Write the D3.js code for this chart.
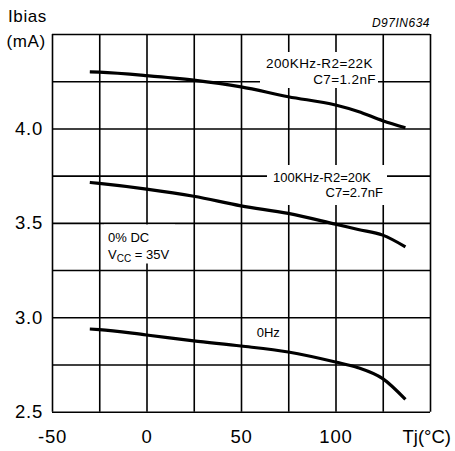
<!DOCTYPE html>
<html>
<head>
<meta charset="utf-8">
<script src="https://cdn.jsdelivr.net/npm/d3@7"></script>
<style>
  body { margin: 0; background: #fff; }
  text { font-family: "Liberation Sans", Arial, sans-serif; fill: #000; }
</style>
</head>
<body>
<div id="chart"></div>
<script>
// Data (Ibias in mA vs junction temperature)
var temps = [-30, -25, 0, 25, 50, 75, 100, 112, 125, 137];
var bias200k = [4.30, 4.298, 4.28, 4.256, 4.22, 4.168, 4.124, 4.09, 4.041, 4.004];
var bias100k = [3.714, 3.709, 3.679, 3.641, 3.59, 3.55, 3.493, 3.465, 3.435, 3.373];
var bias0 = [2.938, 2.935, 2.906, 2.875, 2.848, 2.816, 2.763, 2.733, 2.675, 2.565];

var xGrid = [-50, -25, 0, 25, 50, 75, 100, 125, 150];
var yGrid = [2.5, 2.75, 3.0, 3.25, 3.5, 3.75, 4.0, 4.25, 4.5];
var xLabels = {"-50": "-50", "0": "0", "50": "50", "100": "100", "150": "Tj(°C)"};
var yLabels = {"2.5": "2.5", "3": "3.0", "3.5": "3.5", "4": "4.0"};

var svgWidth = 455;
var svgHeight = 451;
var margin = { top: 34, right: 25, bottom: 39.3, left: 52 };
var width = svgWidth - margin.left - margin.right;
var height = svgHeight - margin.top - margin.bottom;

var svg = d3.select("#chart")
    .append("svg")
    .attr("width", svgWidth)
    .attr("height", svgHeight);

var chartGroup = svg.append("g")
    .attr("transform", `translate(${margin.left}, ${margin.top})`);

var x = d3.scaleLinear().domain([-50, 150]).range([0, width]);
var y = d3.scaleLinear().domain([2.5, 4.5]).range([height, 0]);

// grid + tick labels through the axes
var xAxis = chartGroup.append("g")
    .attr("transform", `translate(0, ${height})`)
    .call(d3.axisBottom(x)
        .tickValues(xGrid)
        .tickSize(-height)
        .tickPadding(18.5)
        .tickFormat(d => xLabels[d] || ""));

var yAxis = chartGroup.append("g")
    .call(d3.axisLeft(y)
        .tickValues(yGrid)
        .tickSize(-width)
        .tickPadding(9)
        .tickFormat(d => yLabels[d] || ""));

[xAxis, yAxis].forEach(ax => {
    ax.select(".domain").remove();
    ax.selectAll(".tick line").attr("stroke", "#000").attr("stroke-width", 1.6);
    ax.selectAll(".tick text")
        .attr("font-family", "Liberation Sans, Arial, sans-serif")
        .attr("font-size", "18.5px")
        .attr("letter-spacing", "0.8px")
        .attr("fill", "#000");
});

// unit label sits at the last tick, starts a bit left of it
xAxis.selectAll(".tick text")
    .filter(d => d === 150)
    .attr("text-anchor", "start")
    .attr("x", -28)
    .attr("letter-spacing", "0px");

// white boxes behind the curve labels
var boxes = [
    [260, 52, 118, 36],
    [267, 165, 120, 40],
    [104, 224.5, 71, 39]
];
svg.append("g").selectAll("rect")
    .data(boxes)
    .enter()
    .append("rect")
    .attr("x", d => d[0])
    .attr("y", d => d[1])
    .attr("width", d => d[2])
    .attr("height", d => d[3])
    .attr("fill", "#fff");

// curves
var series = [bias200k, bias100k, bias0];
var line = d3.line()
    .x((d, i) => x(temps[i]))
    .y(d => y(d))
    .curve(d3.curveMonotoneX);

chartGroup.selectAll(".curve")
    .data(series)
    .enter()
    .append("path")
    .attr("class", "curve")
    .attr("d", line)
    .attr("fill", "none")
    .attr("stroke", "#000")
    .attr("stroke-width", 3.2);

// axis title
svg.append("text").attr("x", 8).attr("y", 21.7).attr("font-size", "17px").attr("letter-spacing", "0.6px").text("Ibias");
svg.append("text").attr("x", 6.5).attr("y", 46.7).attr("font-size", "17px").attr("letter-spacing", "0.6px").text("(mA)");

svg.append("text")
    .attr("x", 430).attr("y", 26.7)
    .attr("text-anchor", "end")
    .attr("font-size", "12px")
    .attr("font-style", "italic")
    .attr("letter-spacing", "0.5px")
    .text("D97IN634");

// curve labels
svg.append("text").attr("x", 266).attr("y", 68).attr("font-size", "13.5px").attr("letter-spacing", "0.4px").text("200KHz-R2=22K");
svg.append("text").attr("x", 376).attr("y", 84).attr("text-anchor", "end").attr("font-size", "13.5px").attr("letter-spacing", "0.4px").text("C7=1.2nF");

svg.append("text").attr("x", 273).attr("y", 181.7).attr("font-size", "13px").text("100KHz-R2=20K");
svg.append("text").attr("x", 383).attr("y", 196.7).attr("text-anchor", "end").attr("font-size", "13px").text("C7=2.7nF");

svg.append("text").attr("x", 108).attr("y", 242.3).attr("font-size", "13px").text("0% DC");
var vcc = svg.append("text").attr("x", 108).attr("y", 259.3).attr("font-size", "13px");
vcc.append("tspan").text("V");
vcc.append("tspan").attr("font-size", "10px").attr("dy", 3).text("CC");
vcc.append("tspan").attr("dy", -3).text(" = 35V");

svg.append("text").attr("x", 256.7).attr("y", 337.3).attr("font-size", "13px").text("0Hz");
</script>
</body>
</html>
